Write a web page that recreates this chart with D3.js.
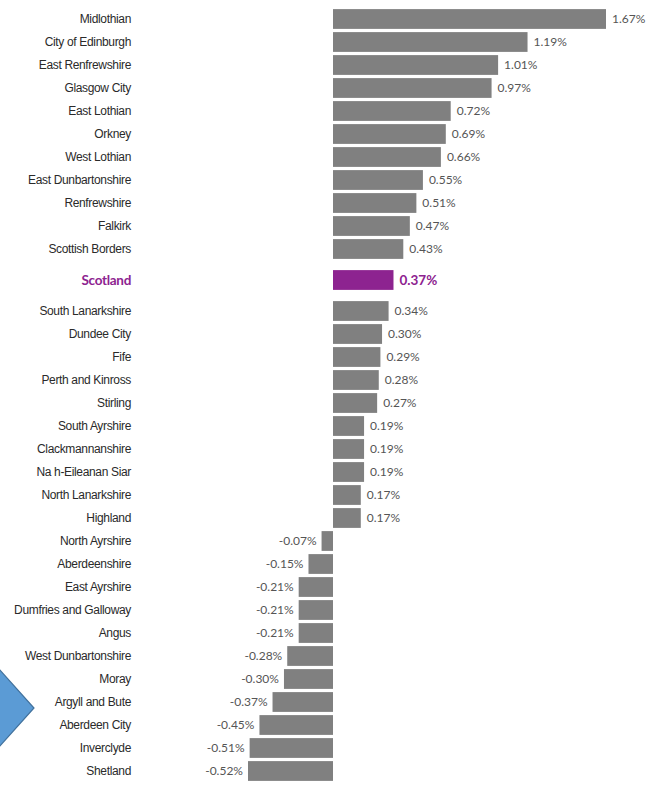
<!DOCTYPE html>
<html>
<head>
<meta charset="utf-8">
<script src="https://cdn.jsdelivr.net/npm/d3@7"></script>
<style>
  body { margin: 0; background: #fff; }
</style>
</head>
<body>
<div id="chart"></div>
<script>
// council areas, sorted as in the picture
const areas = ['Midlothian', 'City of Edinburgh', 'East Renfrewshire', 'Glasgow City', 'East Lothian',
  'Orkney', 'West Lothian', 'East Dunbartonshire', 'Renfrewshire', 'Falkirk', 'Scottish Borders',
  'Scotland',
  'South Lanarkshire', 'Dundee City', 'Fife', 'Perth and Kinross', 'Stirling', 'South Ayrshire',
  'Clackmannanshire', 'Na h-Eileanan Siar', 'North Lanarkshire', 'Highland',
  'North Ayrshire', 'Aberdeenshire', 'East Ayrshire', 'Dumfries and Galloway', 'Angus',
  'West Dunbartonshire', 'Moray', 'Argyll and Bute', 'Aberdeen City', 'Inverclyde', 'Shetland'];
const change = [1.67, 1.19, 1.01, 0.97, 0.72, 0.69, 0.66, 0.55, 0.51, 0.47, 0.43,
  0.37,
  0.34, 0.30, 0.29, 0.28, 0.27, 0.19, 0.19, 0.19, 0.17, 0.17,
  -0.07, -0.15, -0.21, -0.21, -0.21, -0.28, -0.30, -0.37, -0.45, -0.51, -0.52];
const highlight = 'Scotland';

const width = 661, height = 787;
const data = areas.map((a, i) => ({ name: a, value: change[i] }));
const hiIdx = areas.indexOf(highlight);

const svg = d3.select('#chart').append('svg')
  .attr('width', width)
  .attr('height', height);

const x = d3.scaleLinear()
  .domain([-0.52, 1.67])
  .range([248, 606]);

const y = d3.scaleBand()
  .domain(areas)
  .range([7.5, 766.5])
  .paddingInner(0.14)
  .paddingOuter(0.07);

// little extra room around the Scotland row
const yPos = (d, i) => y(d.name) + (i > hiIdx ? 16 : i == hiIdx ? 8 : 0);

// blue arrow on the left
svg.append('polygon')
  .attr('points', '-2,668 34,708 -2,748')
  .attr('fill', '#5b9bd5')
  .attr('stroke', '#41719c')
  .attr('stroke-width', 1.2);

svg.selectAll('rect.bar')
  .data(data)
  .enter()
  .append('rect')
    .attr('class', 'bar')
    .attr('x', d => x(Math.min(0, d.value)))
    .attr('y', yPos)
    .attr('width', d => Math.abs(x(d.value) - x(0)))
    .attr('height', y.bandwidth())
    .attr('fill', d => d.name == highlight ? '#8d2390' : '#808080');

// category names
svg.selectAll('text.name')
  .data(data)
  .enter()
  .append('text')
    .attr('class', 'name')
    .attr('x', 131)
    .attr('y', (d, i) => yPos(d, i) + y.bandwidth() / 2)
    .attr('dy', '0.35em')
    .attr('text-anchor', 'end')
    .style('font-family', d => d.name == highlight ? 'Lato, sans-serif' : '"Liberation Sans", Arial, sans-serif')
    .style('font-size', d => d.name == highlight ? '13.5px' : '12px')
    .style('font-weight', d => d.name == highlight ? 'bold' : 'normal')
    .style('letter-spacing', d => d.name == highlight ? '-0.3px' : '-0.34px')
    .attr('fill', d => d.name == highlight ? '#8d2390' : '#2a2a2a')
    .text(d => d.name);

// value labels
svg.selectAll('text.val')
  .data(data)
  .enter()
  .append('text')
    .attr('class', 'val')
    .attr('x', d => d.value >= 0 ? x(d.value) + 6 : x(d.value) - 5)
    .attr('y', (d, i) => yPos(d, i) + y.bandwidth() / 2)
    .attr('dy', '0.35em')
    .attr('text-anchor', d => d.value >= 0 ? 'start' : 'end')
    .style('font-family', 'Lato, sans-serif')
    .style('font-size', d => d.name == highlight ? '13.5px' : '12px')
    .style('font-weight', d => d.name == highlight ? 'bold' : 'normal')
    .attr('fill', d => d.name == highlight ? '#8d2390' : '#555')
    .text(d => d.value.toFixed(2) + '%');
</script>
</body>
</html>
